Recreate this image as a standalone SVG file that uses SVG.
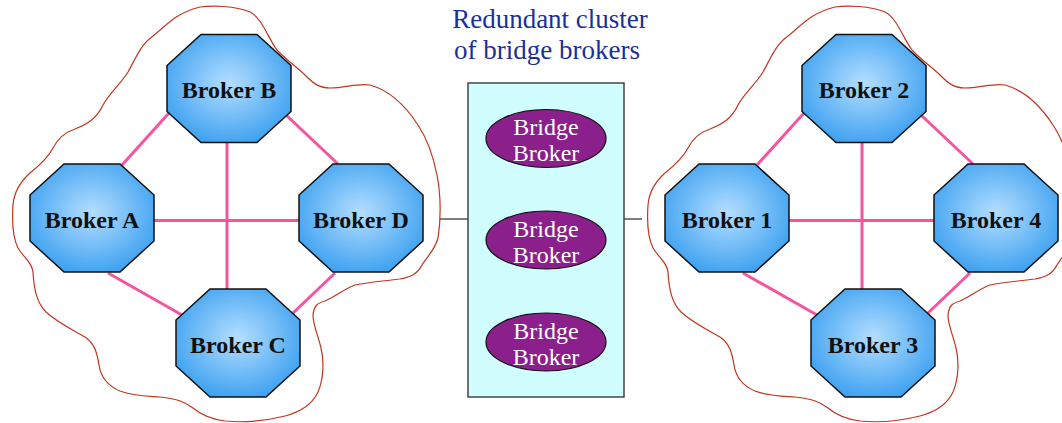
<svg xmlns="http://www.w3.org/2000/svg" width="1062" height="423" viewBox="0 0 1062 423">
<defs>
<radialGradient id="oct" cx="50%" cy="45%" r="60%">
<stop offset="0" stop-color="#b4deff"/>
<stop offset="1" stop-color="#3a9ff0"/>
</radialGradient>
<polygon id="octShape" points="-28,-54 28,-54 62,-23 62,23 28,54 -28,54 -62,23 -62,-23"/>
<path id="cloud" d="M200,7 C212,5 235,6 250,12 C262,18 268,38 277,50 C286,60 297,67 305,75 C312,82 318,88 330,88 C345,88 358,83 370,85 C388,90 405,105 418,125 C428,140 433,155 437,175 C441,195 441,220 438,238 C435,250 428,255 422,265 C418,273 412,277 400,279 C385,281 370,282 355,285 C342,290 335,297 325,301 C318,303 314,305 313,315 C313,325 318,335 321,348 C324,360 324,378 318,392 C312,405 300,412 285,416 C265,421 245,423 225,421 C210,419 200,414 193,408 C185,402 178,399 160,397 C145,396 133,396 120,391 C108,386 101,378 99,365 C97,352 94,343 85,337 C73,330 58,323 46,312 C37,303 34,290 33,272 C32,262 24,258 18,248 C13,238 12,220 13,205 C14,192 20,182 30,173 C40,165 48,158 53,148 C57,140 63,133 75,129 C88,124 97,118 103,105 C110,92 120,85 128,72 C135,60 140,45 153,36 C165,27 175,13 200,7 Z"/>
</defs>
<style>
.oct{fill:url(#oct);stroke:#111;stroke-width:1.5}
.lbl{font-family:"Liberation Serif","Times New Roman",serif;font-weight:bold;font-size:24px;fill:#111;text-anchor:middle}
.mesh{stroke:#f5559f;stroke-width:3;fill:none}
.cloud{fill:none;stroke:#c0361f;stroke-width:1.2}
.link{stroke:#555;stroke-width:1.5;fill:none}
.bb{fill:#8b1f8b;stroke:#111;stroke-width:1.2}
.bbt{font-family:"Liberation Serif","Times New Roman",serif;font-size:24px;fill:#fff;text-anchor:middle}
.title{font-family:"Liberation Serif","Times New Roman",serif;font-size:27px;fill:#1a2f9a;text-anchor:middle}
</style>
<rect width="1062" height="423" fill="#fff"/>

<g id="clouds">
<use href="#cloud" class="cloud"/>
<use href="#cloud" class="cloud" transform="translate(635,0)"/>
</g>

<g id="connectors">
<line class="mesh" x1="169" y1="113" x2="122" y2="165"/>
<line class="mesh" x1="286" y1="115" x2="338" y2="164"/>
<line class="mesh" x1="154" y1="220.5" x2="299" y2="220.5"/>
<line class="mesh" x1="227" y1="143" x2="227" y2="289"/>
<line class="mesh" x1="108" y1="273" x2="182" y2="315"/>
<line class="mesh" x1="335" y1="273" x2="293" y2="313"/>
<line class="mesh" x1="804" y1="113" x2="757" y2="165"/>
<line class="mesh" x1="921" y1="115" x2="973" y2="164"/>
<line class="mesh" x1="789" y1="220.5" x2="934" y2="220.5"/>
<line class="mesh" x1="862" y1="143" x2="862" y2="289"/>
<line class="mesh" x1="743" y1="273" x2="817" y2="315"/>
<line class="mesh" x1="970" y1="273" x2="928" y2="313"/>
<line class="link" x1="440" y1="219" x2="468" y2="219"/>
<line class="link" x1="624" y1="219" x2="642" y2="219"/>
</g>

<g id="brokerB"><use href="#octShape" class="oct" transform="translate(229,88.5)"/><text class="lbl" x="229" y="98">Broker B</text></g>
<g id="brokerA"><use href="#octShape" class="oct" transform="translate(92,218)"/><text class="lbl" x="92" y="228">Broker A</text></g>
<g id="brokerD"><use href="#octShape" class="oct" transform="translate(361,218)"/><text class="lbl" x="361" y="228">Broker D</text></g>
<g id="brokerC"><use href="#octShape" class="oct" transform="translate(238,343)"/><text class="lbl" x="238" y="353">Broker C</text></g>

<g id="broker2"><use href="#octShape" class="oct" transform="translate(864,88.5)"/><text class="lbl" x="864" y="98">Broker 2</text></g>
<g id="broker1"><use href="#octShape" class="oct" transform="translate(727,218)"/><text class="lbl" x="727" y="228">Broker 1</text></g>
<g id="broker4"><use href="#octShape" class="oct" transform="translate(996,218)"/><text class="lbl" x="996" y="228">Broker 4</text></g>
<g id="broker3"><use href="#octShape" class="oct" transform="translate(873,343)"/><text class="lbl" x="873" y="353">Broker 3</text></g>

<g id="title"><text class="title" x="550" y="28">Redundant cluster</text><text class="title" x="547" y="59">of bridge brokers</text></g>

<g id="cluster"><rect x="468" y="83" width="156" height="314" fill="#d0fdfd" stroke="#444" stroke-width="1.5"/></g>

<g id="bridge1"><ellipse class="bb" cx="546" cy="138.5" rx="60" ry="29"/><text class="bbt" x="546" y="135">Bridge</text><text class="bbt" x="546" y="161">Broker</text></g>
<g id="bridge2"><ellipse class="bb" cx="546" cy="240" rx="60" ry="29"/><text class="bbt" x="546" y="237">Bridge</text><text class="bbt" x="546" y="263">Broker</text></g>
<g id="bridge3"><ellipse class="bb" cx="546" cy="342" rx="60" ry="29"/><text class="bbt" x="546" y="339">Bridge</text><text class="bbt" x="546" y="365">Broker</text></g>
</svg>
